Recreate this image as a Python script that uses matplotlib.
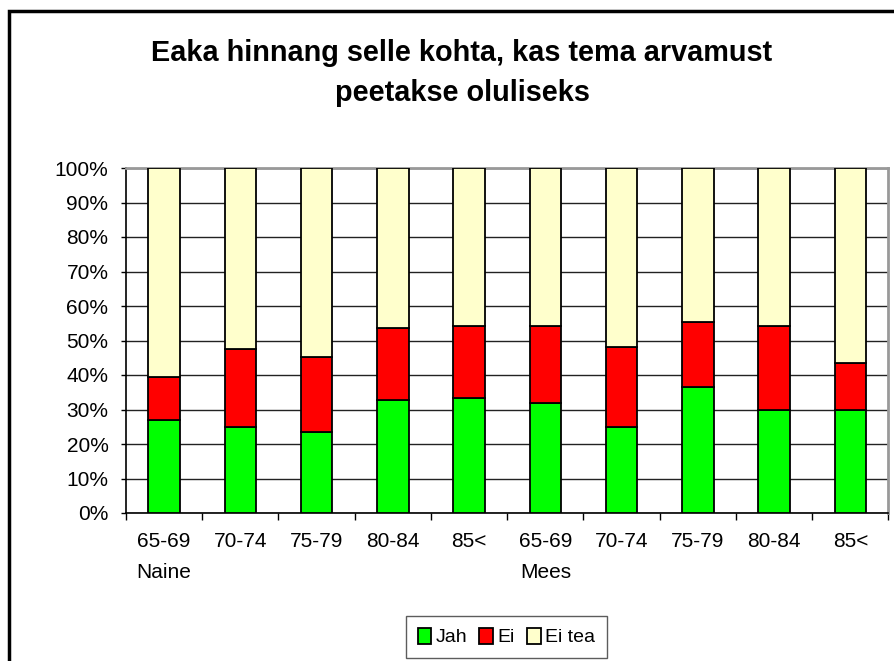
import matplotlib.pyplot as plt
from matplotlib.patches import Rectangle
import numpy as np

age_groups = ["65-69", "70-74", "75-79", "80-84", "85<"] * 2
genders = ["Naine", "Mees"]
jah = [27.1, 24.8, 23.6, 32.7, 33.4, 32.0, 24.8, 36.6, 30.0, 30.0]
ei = [12.4, 22.6, 21.6, 20.9, 20.8, 22.2, 23.2, 18.8, 24.2, 13.6]
ei_tea = [100 - a - b for a, b in zip(jah, ei)]

plt.rcParams['font.family'] = ['Liberation Sans', 'DejaVu Sans']

W, H = 895, 661
fig = plt.figure(figsize=(W / 100, H / 100), dpi=100)

# outer chart frame (runs off the right and bottom edges)
fig.patches.append(Rectangle((9 / W, -0.1), 1.2, (H - 11) / H + 0.1,
                             transform=fig.transFigure, fill=False,
                             edgecolor='black', linewidth=2.5))

left, right, top, bottom = 126, 888.5, 168, 513
ax = fig.add_axes([left / W, 1 - bottom / H, (right - left) / W, (bottom - top) / H])

x = np.arange(len(age_groups))
w = 0.41
kw = dict(width=w, edgecolor='black', linewidth=1.3, zorder=3)
ax.bar(x, jah, color='#00ff00', label='Jah', **kw)
ax.bar(x, ei, bottom=jah, color='#ff0000', label='Ei', **kw)
ax.bar(x, ei_tea, bottom=np.add(jah, ei), color='#ffffcc', label='Ei tea', **kw)

ax.set_xlim(-0.5, len(x) - 0.5)
ax.set_ylim(0, 100)
ax.set_yticks(range(0, 101, 10))
ax.set_yticklabels([f"{v}%" for v in range(0, 101, 10)], fontsize=15)
ax.yaxis.grid(True, color='#222222', linewidth=1)
ax.set_axisbelow(True)
ax.tick_params(axis='y', length=3.6, width=1, pad=9)

ax.set_xticks(x)
ax.set_xticklabels(age_groups, fontsize=15)
ax.tick_params(axis='x', length=0, pad=14)
ax.set_xticks(np.arange(-0.5, len(x), 1), minor=True)
ax.tick_params(axis='x', which='minor', length=5, width=1)

for s in ['left', 'bottom']:
    ax.spines[s].set_color('black')
    ax.spines[s].set_linewidth(1.2)
for s in ['top', 'right']:
    ax.spines[s].set_color('#999999')
    ax.spines[s].set_linewidth(2)

# group labels under the first tick of each gender
for i, g in enumerate(genders):
    fig.text((left + (i * 5 + 0.5) * (right - left) / 10) / W, 1 - 572 / H, g,
             ha='center', va='center', fontsize=15)

fig.text(462 / W, 1 - 53 / H, "Eaka hinnang selle kohta, kas tema arvamust",
         ha='center', va='center', fontsize=20.8, fontweight='bold')
fig.text(462 / W, 1 - 93 / H, "peetakse oluliseks",
         ha='center', va='center', fontsize=20.8, fontweight='bold')

leg = fig.legend(loc='center', bbox_to_anchor=(506.5 / W, 1 - 637 / H), ncol=3,
                 fontsize=14, frameon=True, fancybox=False, edgecolor='#333333',
                 handlelength=0.7, handleheight=0.9, handletextpad=0.25,
                 columnspacing=0.6, borderpad=0.6)
leg.get_frame().set_linewidth(1)

fig.savefig('out.png', dpi=100)
